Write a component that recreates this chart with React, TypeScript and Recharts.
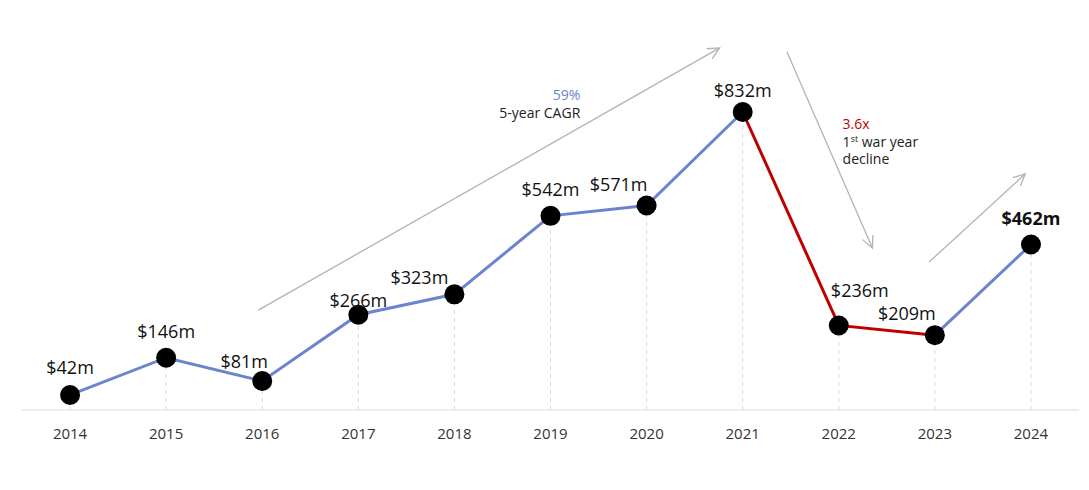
import React from "react";
import {
  ComposedChart,
  Line,
  XAxis,
  YAxis,
  ReferenceLine,
  ReferenceDot,
  LabelList,
} from "recharts";

// ─── data ───────────────────────────────────────────────────────────────
const years = [2014, 2015, 2016, 2017, 2018, 2019, 2020, 2021, 2022, 2023, 2024];
const revenue = [42, 146, 81, 266, 323, 542, 571, 832, 236, 209, 462];
const declineYears = [2021, 2022, 2023];

// label nudges per year: [dx, dy from dot centre]
const labelNudge: Record<number, [number, number]> = {
  2014: [0, -21],
  2015: [0, -20],
  2016: [-18, -13],
  2017: [0, -8],
  2018: [-35, -10],
  2019: [0, -20],
  2020: [-28, -14],
  2021: [0, -15],
  2022: [21, -28],
  2023: [-28, -15],
  2024: [0, -20],
};

const FONT = "'Open Sans', 'Noto Sans', sans-serif";
const BLUE = "#6a84cf";
const RED = "#c00000";

const data = years.map((y, i) => ({
  year: y,
  value: revenue[i],
  blue: y === 2022 ? null : revenue[i],
  red: declineYears.includes(y) ? revenue[i] : null,
}));

// trend arrows in data space: [x1, y1, x2, y2]
const arrows: [number, number, number, number][] = [
  [2015.96, 279, 2020.76, 1011],
  [2021.46, 1000, 2022.35, 452],
  [2022.94, 413, 2023.94, 659],
];

function Arrow(props: any) {
  const { x1, y1, x2, y2 } = props;
  const ang = Math.atan2(y2 - y1, x2 - x1);
  const L = 13;
  const spread = 0.45;
  const ax = x2 - L * Math.cos(ang - spread);
  const ay = y2 - L * Math.sin(ang - spread);
  const bx = x2 - L * Math.cos(ang + spread);
  const by = y2 - L * Math.sin(ang + spread);
  return (
    <g>
      <line x1={x1} y1={y1} x2={x2} y2={y2} stroke="#b3b3b3" strokeWidth={1.3} />
      <path d={`M${ax},${ay} L${x2},${y2} L${bx},${by}`} fill="none" stroke="#b3b3b3" strokeWidth={1.3} />
    </g>
  );
}

function ValueLabel(props: any) {
  const { x, y, value, index } = props;
  const yr = years[index];
  const [dx, dy] = labelNudge[yr] ?? [0, -20];
  return (
    <text
      x={x + dx}
      y={y + dy}
      textAnchor="middle"
      fontFamily={FONT}
      fontSize={18}
      fontWeight={yr === 2024 ? 700 : 400}
      fill="#111"
    >
      ${value}m
    </text>
  );
}

function Dot(props: any) {
  const { cx, cy } = props;
  if (cx == null || cy == null) return null;
  return <circle cx={cx} cy={cy} r={10} fill="#000" />;
}

export default function App() {
  return (
    <div style={{ width: 1073, height: 470, background: "#fff" }}>
      <ComposedChart
        width={1073}
        height={470}
        data={data}
        margin={{ top: 8, right: 2, bottom: 38, left: 14 }}
      >
        <XAxis
          dataKey="year"
          type="number"
          domain={[2013.5, 2024.5]}
          allowDataOverflow
          ticks={years}
          interval={0}
          tickLine={false}
          axisLine={{ stroke: "#dcdcdc" }}
          tick={{ fill: "#333", fontSize: 15, fontFamily: FONT }}
          tickMargin={12}
        />
        <YAxis hide domain={[0, 1100]} allowDataOverflow />

        {data.map((d) => (
          <ReferenceLine
            key={`v-${d.year}`}
            segment={[
              { x: d.year, y: 0 },
              { x: d.year, y: d.value },
            ]}
            stroke="#d9d9d9"
            strokeDasharray="4 4"
            strokeWidth={1}
          />
        ))}

        {arrows.map((a, i) => (
          <ReferenceLine
            key={`a-${i}`}
            segment={[
              { x: a[0], y: a[1] },
              { x: a[2], y: a[3] },
            ]}
            ifOverflow="visible"
            shape={Arrow}
          />
        ))}

        <ReferenceDot
          x={2019.31}
          y={866}
          ifOverflow="visible"
          shape={(p: any) => (
            <text x={p.cx} y={p.cy} textAnchor="end" fontFamily={FONT} fontSize={14}>
              <tspan fill={BLUE} x={p.cx}>59%</tspan>
              <tspan fill="#222" x={p.cx} dy={18}>5-year CAGR</tspan>
            </text>
          )}
        />
        <ReferenceDot
          x={2022.04}
          y={785}
          ifOverflow="visible"
          shape={(p: any) => (
            <text x={p.cx} y={p.cy} textAnchor="start" fontFamily={FONT} fontSize={14}>
              <tspan fill={RED} x={p.cx}>3.6x</tspan>
              <tspan fill="#222" x={p.cx} dy={18}>1</tspan>
              <tspan fill="#222" fontSize={9} dy={-5}>st</tspan>
              <tspan fill="#222" dy={5}> war year</tspan>
              <tspan fill="#222" x={p.cx} dy={17}>decline</tspan>
            </text>
          )}
        />

        <Line
          dataKey="blue"
          stroke={BLUE}
          strokeWidth={3}
          dot={false}
          activeDot={false}
          isAnimationActive={false}
        />
        <Line
          dataKey="red"
          stroke={RED}
          strokeWidth={3}
          dot={false}
          activeDot={false}
          isAnimationActive={false}
        />
        <Line
          dataKey="value"
          stroke="none"
          dot={Dot}
          activeDot={false}
          isAnimationActive={false}
        >
          <LabelList dataKey="value" content={ValueLabel} />
        </Line>
      </ComposedChart>
    </div>
  );
}
